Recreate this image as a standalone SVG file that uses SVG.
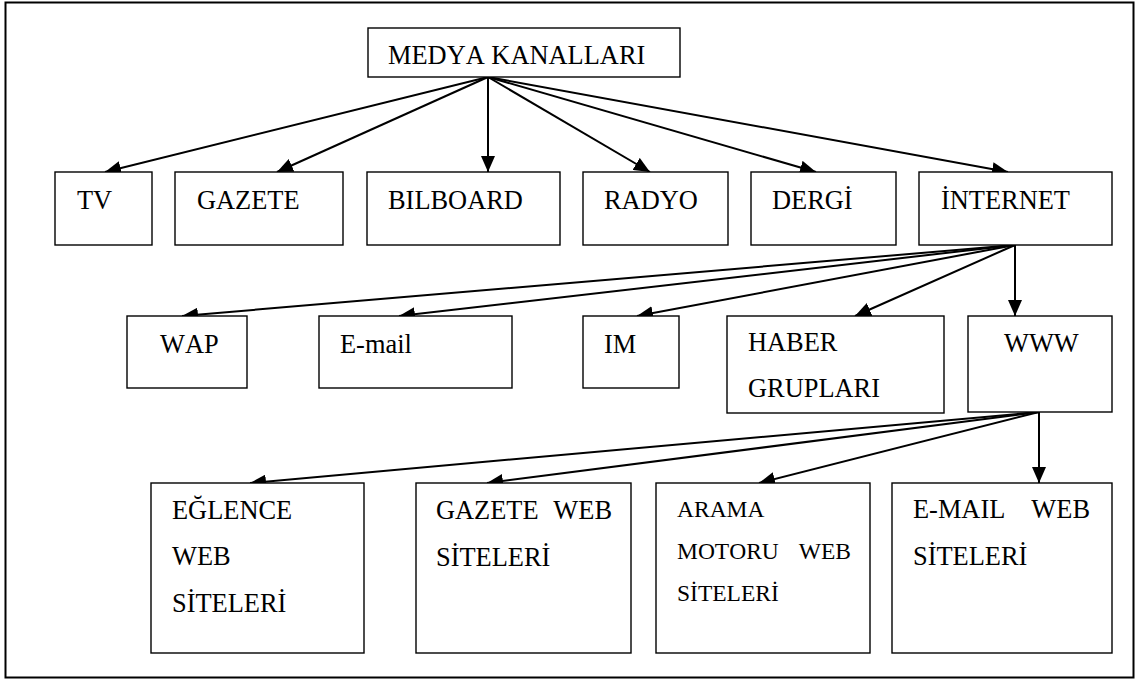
<svg xmlns="http://www.w3.org/2000/svg" width="1138" height="680" viewBox="0 0 1138 680">
<style>
.box{fill:#fff;stroke:#000;stroke-width:1.4}
.t{font-family:"Liberation Serif","Times New Roman",serif;font-size:26.4px;font-kerning:none;fill:#000}
.s{font-size:23.5px}
.c line{stroke:#000;stroke-width:2;marker-end:url(#ah)}
</style>
<defs>
<marker id="ah" markerUnits="userSpaceOnUse" viewBox="0 0 16 14" refX="16" refY="7" markerWidth="16" markerHeight="14" orient="auto">
<path d="M0,0 L16,7 L0,14 Z" fill="#000"/>
</marker>
</defs>
<rect x="5.5" y="2.5" width="1128" height="675" fill="#fff" stroke="#000" stroke-width="2"/>
<g class="c" id="connectors">
<line x1="488" y1="77" x2="105" y2="172"/>
<line x1="488" y1="77" x2="277" y2="172"/>
<line x1="488" y1="77" x2="488" y2="172"/>
<line x1="488" y1="77" x2="650" y2="172"/>
<line x1="488" y1="77" x2="816" y2="172"/>
<line x1="488" y1="77" x2="1008" y2="172"/>
<line x1="1015" y1="245" x2="182" y2="316"/>
<line x1="1015" y1="245" x2="399" y2="316"/>
<line x1="1015" y1="245" x2="637" y2="316"/>
<line x1="1015" y1="245" x2="855" y2="316"/>
<line x1="1015" y1="245" x2="1015" y2="316"/>
<line x1="1039" y1="412" x2="250" y2="483"/>
<line x1="1039" y1="412" x2="487" y2="483"/>
<line x1="1039" y1="412" x2="759" y2="483"/>
<line x1="1039" y1="412" x2="1039" y2="483"/>
</g>
<g id="medya"><rect class="box" x="368" y="28" width="312" height="49"/><text class="t" x="388" y="64">MEDYA KANALLARI</text></g>
<g id="tv"><rect class="box" x="55" y="172" width="97" height="73"/><text class="t" x="77" y="209">TV</text></g>
<g id="gazete"><rect class="box" x="175" y="172" width="168" height="73"/><text class="t" x="197" y="209">GAZETE</text></g>
<g id="bilboard"><rect class="box" x="367" y="172" width="193" height="73"/><text class="t" x="388" y="209">BILBOARD</text></g>
<g id="radyo"><rect class="box" x="583" y="172" width="145" height="73"/><text class="t" x="604" y="209">RADYO</text></g>
<g id="dergi"><rect class="box" x="751" y="172" width="145" height="73"/><text class="t" x="772" y="209">DERGİ</text></g>
<g id="internet"><rect class="box" x="919" y="172" width="193" height="73"/><text class="t" x="941" y="209">İNTERNET</text></g>
<g id="wap"><rect class="box" x="127" y="316" width="120" height="72"/><text class="t" x="160" y="353">WAP</text></g>
<g id="email"><rect class="box" x="319" y="316" width="193" height="72"/><text class="t" x="340" y="353">E-mail</text></g>
<g id="im"><rect class="box" x="583" y="316" width="96" height="72"/><text class="t" x="604" y="353">IM</text></g>
<g id="haber"><rect class="box" x="727" y="316" width="217" height="97"/><text class="t" x="748" y="351">HABER</text><text class="t" x="748" y="397">GRUPLARI</text></g>
<g id="www"><rect class="box" x="968" y="316" width="144" height="96"/><text class="t" x="1004" y="352">WWW</text></g>
<g id="eglence"><rect class="box" x="151" y="483" width="213" height="170"/><text class="t" x="172" y="519">EĞLENCE</text><text class="t" x="172" y="565">WEB</text><text class="t" x="172" y="612">SİTELERİ</text></g>
<g id="gazeteweb"><rect class="box" x="416" y="483" width="215" height="170"/><text class="t" x="436" y="519">GAZETE</text><text class="t" x="612" y="519" text-anchor="end">WEB</text><text class="t" x="436" y="566">SİTELERİ</text></g>
<g id="arama"><rect class="box" x="656" y="483" width="214" height="170"/><text class="t s" x="677" y="517">ARAMA</text><text class="t s" x="677" y="559">MOTORU</text><text class="t s" x="851" y="559" text-anchor="end">WEB</text><text class="t s" x="677" y="601">SİTELERİ</text></g>
<g id="emailweb"><rect class="box" x="892" y="483" width="220" height="170"/><text class="t" x="913" y="518">E-MAIL</text><text class="t" x="1090" y="518" text-anchor="end">WEB</text><text class="t" x="913" y="565">SİTELERİ</text></g>
</svg>
